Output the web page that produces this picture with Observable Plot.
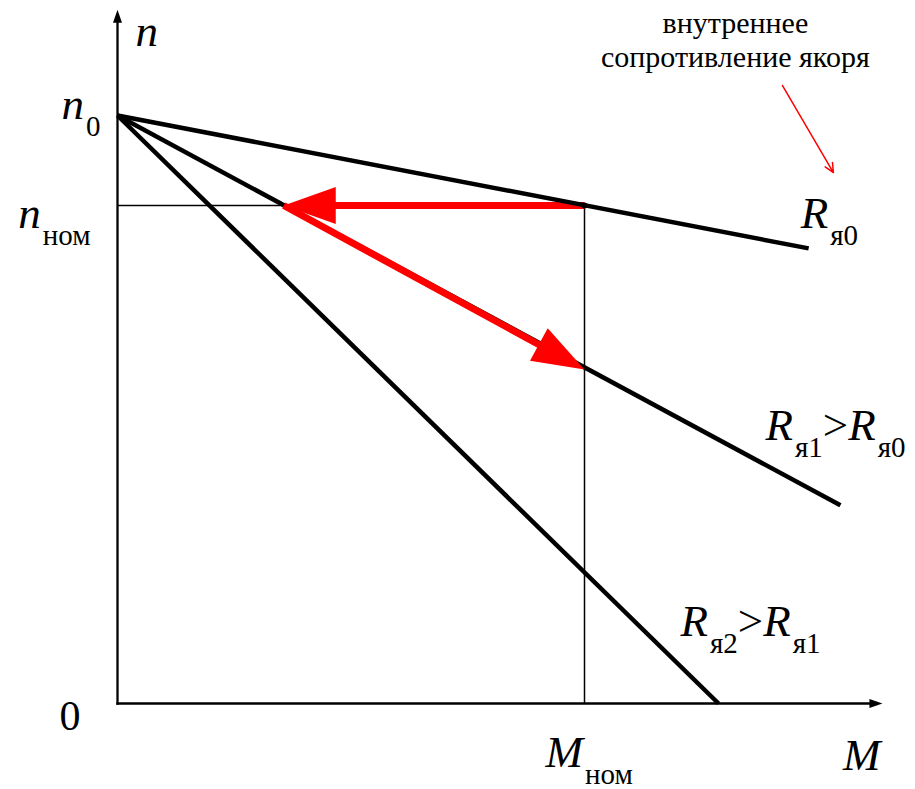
<!DOCTYPE html>
<html><head><meta charset="utf-8">
<script src="https://cdn.jsdelivr.net/npm/d3@7"></script>
<script src="https://cdn.jsdelivr.net/npm/@observablehq/plot@0.6"></script>
<style>
html,body{margin:0;padding:0;background:#fff;}
svg{display:block;}
</style>
</head><body><div id="chart"></div>
<script>
// ---- data ----
const lineNames = ["R_{я0}", "R_{я1}>R_{я0}", "R_{я2}>R_{я1}"];
const lineStartM = [0, 0, 0];
const lineStartN = [1, 1, 1];
const lineEndM = [1.480, 1.548, 1.287];
const lineEndN = [0.774, 0.337, 0.0];
const n0 = 1.0;          // idle speed
const nNom = 0.847;      // nominal speed
const mNom = 1.0;        // nominal torque
const mShift = 0.356;    // R1 characteristic at n_nom
const nShift = 0.568;    // R1 characteristic at M_nom
const axisMaxM = 1.638;
const axisMaxN = 1.180;
const axisLabels = ["n", "M", "0"];
const levelLabels = ["n_{0}", "n_{ном}", "M_{ном}"];
const noteText = ["внутреннее", "сопротивление якоря"];
const noteM = 1.323, noteN = 1.082;
const pointerM = [1.424, 1.533], pointerN = [1.051, 0.903];

// ---- scales ----
const X = {domain: [0, mNom], range: [117, 584]};
const Y = {domain: [0, n0], range: [703, 115]};
const kx = (X.range[1] - X.range[0]) / (X.domain[1] - X.domain[0]);
const ky = (Y.range[0] - Y.range[1]) / (Y.domain[1] - Y.domain[0]);
const diagAngle = Math.atan2((mNom - mShift) * kx, -((nNom - nShift) * ky)) * 180 / Math.PI;

const tri = (len, wid) => ({draw(ctx) { ctx.moveTo(0, 0); ctx.lineTo(-wid / 2, len); ctx.lineTo(wid / 2, len); ctx.closePath(); }});
const axisHead = tri(13, 9);
const redHead = tri(52, 37);

const lines = lineNames.map((name, i) => ({name, x1: lineStartM[i], y1: lineStartN[i], x2: lineEndM[i], y2: lineEndN[i]}));
const FONT = "'Times New Roman', Times, serif";
const MAIN = 45;

const txt = (label, x, y, o) => Plot.text([label], {x, y, text: d => d, fontFamily: FONT, fontSize: MAIN, lineAnchor: "bottom", fill: "black", className: "rich", ...o});

const svg = Plot.plot({
  width: 915, height: 789, margin: 0,
  x: {...X, axis: null},
  y: {...Y, axis: null},
  style: {background: "white", overflow: "visible", fontFamily: FONT},
  marks: [
    // axes
    Plot.arrow([{x1: 0, y1: 0, x2: 0, y2: axisMaxN}, {x1: 0, y1: 0, x2: axisMaxM, y2: 0}],
      {x1: "x1", y1: "y1", x2: "x2", y2: "y2", stroke: "black", strokeWidth: 2.3, headLength: 0, insetEnd: 8, strokeLinecap: "square"}),
    Plot.dot([{x: 0, y: axisMaxN, r: 0}, {x: axisMaxM, y: 0, r: 90}],
      {x: "x", y: "y", rotate: "r", symbol: axisHead, fill: "black", stroke: "none"}),
    // guides
    Plot.link([{x1: 0, y1: nNom, x2: mNom, y2: nNom}, {x1: mNom, y1: nNom, x2: mNom, y2: 0}],
      {x1: "x1", y1: "y1", x2: "x2", y2: "y2", stroke: "black", strokeWidth: 1.5, strokeLinecap: "butt"}),
    // characteristics R1, R2
    Plot.link(lines.slice(1), {x1: "x1", y1: "y1", x2: "x2", y2: "y2", stroke: "black", strokeWidth: 4.5, strokeLinecap: "butt"}),
    // red transition arrows
    Plot.arrow([{x1: mNom, y1: nNom, x2: mShift, y2: nNom}, {x1: mShift, y1: nNom, x2: mNom, y2: nShift}],
      {x1: "x1", y1: "y1", x2: "x2", y2: "y2", stroke: "#ff0000", strokeWidth: 7, headLength: 0, insetEnd: 45, strokeLinecap: "butt"}),
    Plot.dot([{x: mShift, y: nNom, r: -90}, {x: mNom, y: nShift, r: diagAngle}],
      {x: "x", y: "y", rotate: "r", symbol: redHead, fill: "#ff0000", stroke: "none"}),
    // characteristic R0
    Plot.link(lines.slice(0, 1), {x1: "x1", y1: "y1", x2: "x2", y2: "y2", stroke: "black", strokeWidth: 4.5, strokeLinecap: "butt"}),
    Plot.dot([{x: mNom, y: nNom}], {x: "x", y: "y", r: 3, fill: "black"}),
    // pointer
    Plot.arrow([{x1: pointerM[0], y1: pointerN[0], x2: pointerM[1], y2: pointerN[1]}],
      {x1: "x1", y1: "y1", x2: "x2", y2: "y2", stroke: "#ff0000", strokeWidth: 1.5, headLength: 10, headAngle: 50}),
    // labels
    txt(axisLabels[0], 0, axisMaxN, {textAnchor: "start", dx: 18, dy: 36}),
    txt(axisLabels[1], axisMaxM, 0, {textAnchor: "end", dx: -2, dy: 66}),
    txt(axisLabels[2], 0, 0, {textAnchor: "end", dx: -37, dy: 26, fontSize: 42}),
    txt(levelLabels[0], 0, n0, {textAnchor: "end", dx: -17, dy: 3}),
    txt(levelLabels[1], 0, nNom, {textAnchor: "end", dx: -27, dy: 23}),
    txt(levelLabels[2], mNom, 0, {textAnchor: "start", dx: -39, dy: 63}),
    txt(lineNames[0], lineEndM[0], lineEndN[0], {textAnchor: "start", dx: -8, dy: -20}),
    txt(lineNames[1], lineEndM[1], lineEndN[1], {textAnchor: "start", dx: -75, dy: -65}),
    txt(lineNames[2], lineEndM[2], lineEndN[2], {textAnchor: "start", dx: -38, dy: -68}),
    Plot.text([noteText.join("\n")], {x: noteM, y: noteN, text: d => d, fontFamily: FONT, fontSize: 30, lineHeight: 1.13, lineAnchor: "bottom", textAnchor: "middle", fill: "black"})
  ]
});

// subscripts and italics as real text (tspans)
const SUB = 29, SHIFT = 17;
d3.select(svg).selectAll("g.rich text").each(function() {
  const s = this.textContent;
  const t = d3.select(this).text(null);
  let off = 0;
  for (const m of s.matchAll(/_\{([^}]*)\}|([A-Za-z]+)|([^_A-Za-z]+)/g)) {
    const sp = t.append("tspan");
    if (m[1] !== undefined) {
      sp.attr("font-size", SUB).attr("font-style", "normal").attr("dy", SHIFT - off).attr("dx", 2).text(m[1]);
      off = SHIFT;
    } else {
      sp.attr("dy", -off).attr("font-style", m[2] ? "italic" : "normal").text(m[2] ?? m[3]);
      off = 0;
    }
  }
});
document.getElementById("chart").appendChild(svg);
</script>
</body></html>
